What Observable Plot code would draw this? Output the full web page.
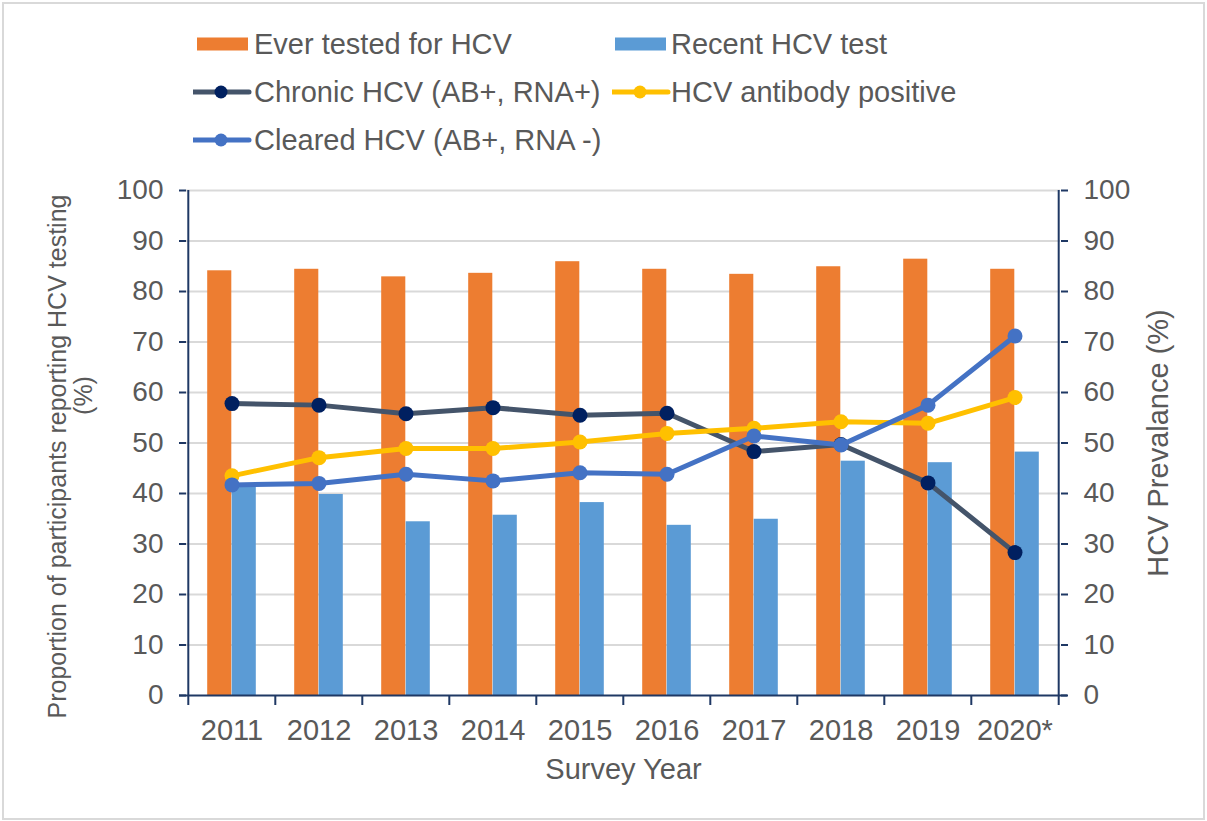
<!DOCTYPE html>
<html>
<head>
<meta charset="utf-8">
<script src="https://cdn.jsdelivr.net/npm/d3@7"></script>
<script src="https://cdn.jsdelivr.net/npm/@observablehq/plot@0.6"></script>
<style>
  html, body { margin: 0; padding: 0; background: #fff; }
  #wrap { position: relative; width: 1207px; height: 821px; overflow: hidden; font-family: "Liberation Sans", Arial, sans-serif; color: #595959; }
  #border { position: absolute; left: 2px; top: 2px; width: 1199px; height: 814px; border: 2px solid #d9d9d9; pointer-events: none; z-index: 5; }
  #legend { position: relative; height: 170px; }
  .item { position: absolute; font-size: 29px; line-height: 34px; white-space: nowrap; color: #595959; }
  .sw { position: absolute; }
  #chart { position: absolute; left: 0; top: 170px; }
</style>
</head>
<body>
<div id="wrap">
  <div id="legend"></div>
  <div id="chart"></div>
  <div id="border"></div>
</div>
<script>
// ---- Data ----
const years = ["2011", "2012", "2013", "2014", "2015", "2016", "2017", "2018", "2019", "2020*"];
const everTested = [84.1, 84.4, 82.9, 83.6, 85.9, 84.4, 83.4, 84.9, 86.4, 84.4];
const recentTest = [41.3, 39.8, 34.4, 35.7, 38.2, 33.7, 34.9, 46.4, 46.1, 48.2];
const chronicHCV = [57.8, 57.5, 55.8, 57.0, 55.5, 55.9, 48.3, 49.7, 42.1, 28.3];
const antibodyPos = [43.5, 47.1, 48.9, 48.9, 50.2, 51.9, 52.9, 54.2, 53.9, 59.0];
const clearedHCV = [41.7, 42.0, 43.8, 42.5, 44.1, 43.8, 51.4, 49.6, 57.5, 71.2];
const yTicks = [0, 10, 20, 30, 40, 50, 60, 70, 80, 90, 100];

const seriesNames = {
  ever: "Ever tested for HCV",
  recent: "Recent HCV test",
  chronic: "Chronic HCV (AB+, RNA+)",
  antibody: "HCV antibody positive",
  cleared: "Cleared HCV (AB+, RNA -)"
};
const leftTitle = "Proportion of participants reporting HCV testing";
const leftTitle2 = "(%)";
const rightTitle = "HCV Prevalance (%)";
const xTitle = "Survey Year";

const colors = {
  ever: "#ED7D31",
  recent: "#5B9BD5",
  chronicLine: "#44546A",
  chronicDot: "#002060",
  antibody: "#FFC000",
  cleared: "#4472C4",
  axis: "#1F3864",
  grid: "#D9D9D9",
  text: "#595959"
};

const rows = years.map((year, i) => ({
  year,
  ever: everTested[i],
  recent: recentTest[i],
  chronic: chronicHCV[i],
  antibody: antibodyPos[i],
  cleared: clearedHCV[i]
}));

// ---- Layout ----
const W = 1207, H = 651, ML = 186, MR = 147, MT = 20, MB = 126;
const bw = (W - ML - MR) / years.length;
const barW = 24.5;
const plotH = H - MT - MB;
const last = years[years.length - 1];
const font = '"Liberation Sans", Arial, sans-serif';

const lineSeries = [
  {key: "chronic", line: colors.chronicLine, dot: colors.chronicDot},
  {key: "antibody", line: colors.antibody, dot: colors.antibody},
  {key: "cleared", line: colors.cleared, dot: colors.cleared}
];

const chart = Plot.plot({
  width: W,
  height: H,
  marginLeft: ML,
  marginRight: MR,
  marginTop: MT,
  marginBottom: MB,
  style: {fontFamily: font, fontSize: "28px", background: "transparent", color: colors.text, overflow: "visible"},
  x: {domain: years, padding: 0},
  y: {domain: [0, 100]},
  marks: [
    Plot.ruleY(yTicks.filter(d => d > 0), {stroke: colors.grid, strokeWidth: 2}),
    Plot.barY(rows, {x: "year", y: "ever", fill: colors.ever, insetLeft: bw / 2 - barW, insetRight: bw / 2}),
    Plot.barY(rows, {x: "year", y: "recent", fill: colors.recent, insetLeft: bw / 2, insetRight: bw / 2 - barW}),
    // axis lines
    Plot.ruleY([0], {stroke: colors.axis, strokeWidth: 2, insetLeft: -7, insetRight: -7}),
    Plot.ruleX([years[0]], {dx: -bw / 2, stroke: colors.axis, strokeWidth: 2}),
    Plot.ruleX([last], {dx: bw / 2, stroke: colors.axis, strokeWidth: 2}),
    // category boundary ticks
    Plot.ruleX(years, {dx: -bw / 2, insetTop: plotH, insetBottom: -10, stroke: colors.axis, strokeWidth: 2}),
    Plot.ruleX([last], {dx: bw / 2, insetTop: plotH, insetBottom: -10, stroke: colors.axis, strokeWidth: 2}),
    Plot.axisY({anchor: "left", ticks: yTicks, tickSize: 7, tickPadding: 16, stroke: colors.axis, strokeWidth: 2, fill: colors.text, fontSize: 28, label: null}),
    Plot.axisY({anchor: "right", ticks: yTicks, tickSize: 7, tickPadding: 16, stroke: colors.axis, strokeWidth: 2, fill: colors.text, fontSize: 28, label: null}),
    Plot.axisX({tickSize: 0, tickPadding: 24, fill: colors.text, fontSize: 29, label: null}),
    // lines
    ...lineSeries.flatMap(s => [
      Plot.line(rows, {x: "year", y: s.key, stroke: s.line, strokeWidth: 5}),
      Plot.dot(rows, {x: "year", y: s.key, r: 7.5, fill: s.dot, stroke: "none"})
    ]),
    // titles
    Plot.text([xTitle], {text: d => d, frameAnchor: "bottom", textAnchor: "middle", dy: 83, fontSize: 29, fill: colors.text}),
    Plot.text([leftTitle], {text: d => d, frameAnchor: "left", textAnchor: "middle", rotate: -90, dx: -129, dy: 13.5, fontSize: 25, fill: colors.text}),
    Plot.text([leftTitle2], {text: d => d, frameAnchor: "left", textAnchor: "middle", rotate: -90, dx: -103, dy: -47.5, fontSize: 25, fill: colors.text}),
    Plot.text([rightTitle], {text: d => d, frameAnchor: "right", textAnchor: "middle", rotate: -90, dx: 98, dy: 0, fontSize: 29, fill: colors.text})
  ]
});
document.getElementById("chart").appendChild(chart);

// ---- Legend (HTML above the SVG) ----
const legend = document.getElementById("legend");
function addItem(sx, sy, swatch, label, tx) {
  const ns = "http://www.w3.org/2000/svg";
  const svg = document.createElementNS(ns, "svg");
  svg.setAttribute("class", "sw");
  svg.setAttribute("width", 60);
  svg.setAttribute("height", 20);
  svg.style.left = sx + "px";
  svg.style.top = (sy - 10) + "px";
  svg.innerHTML = swatch;
  legend.appendChild(svg);
  const d = document.createElement("div");
  d.className = "item";
  d.style.left = tx + "px";
  d.style.top = (sy - 17) + "px";
  d.textContent = label;
  legend.appendChild(d);
}
const rectSw = c => `<rect x="0" y="3.5" width="51" height="13" fill="${c}"/>`;
const lineSw = (l, dcol) => `<line x1="0" y1="10" x2="56" y2="10" stroke="${l}" stroke-width="5" stroke-linecap="round"/><circle cx="28" cy="10" r="6.5" fill="${dcol}"/>`;
addItem(197, 44, rectSw(colors.ever), seriesNames.ever, 254);
addItem(615, 44, rectSw(colors.recent), seriesNames.recent, 671);
addItem(193, 92, lineSw(colors.chronicLine, colors.chronicDot), seriesNames.chronic, 254);
addItem(612, 92, lineSw(colors.antibody, colors.antibody), seriesNames.antibody, 671);
addItem(193, 140, lineSw(colors.cleared, colors.cleared), seriesNames.cleared, 254);
</script>
</body>
</html>
